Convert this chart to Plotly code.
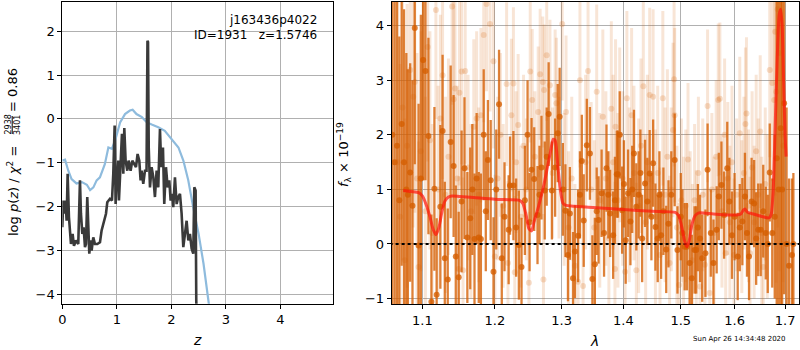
import plotly.graph_objects as go

# ---------------- left panel: p(z) ----------------
pz_blue_z = [0, 0.05, 0.11, 0.17, 0.26, 0.36, 0.45, 0.51, 0.57, 0.63, 0.69, 0.78, 0.845, 0.91, 0.97,
             1.06, 1.15, 1.24, 1.29, 1.36, 1.46, 1.55, 1.64, 1.76, 1.88, 2.01, 2.13, 2.22, 2.31, 2.40,
             2.50, 2.59, 2.68, 2.75]
pz_blue_y = [-0.95, -0.93, -1.18, -1.37, -1.47, -1.44, -1.50, -1.62, -1.56, -1.40, -1.33, -1.03, -0.65,
             -0.68, -0.49, -0.08, 0.11, 0.19, 0.21, 0.11, 0.04, -0.08, -0.13, -0.19, -0.27, -0.46, -0.65,
             -0.95, -1.40, -2.01, -2.62, -3.30, -4.21, -4.8]

pz_dark_z = [0.0, 0.018, 0.037, 0.061, 0.079, 0.098, 0.122, 0.141, 0.159, 0.189, 0.214, 0.251, 0.293,
             0.324, 0.342, 0.367, 0.391, 0.416, 0.434, 0.458, 0.477, 0.495, 0.520, 0.538, 0.568, 0.599,
             0.642, 0.691, 0.721, 0.764, 0.801, 0.825, 0.874, 0.911, 0.935, 0.960, 0.978, 0.996, 1.027,
             1.039, 1.070, 1.094, 1.119, 1.137, 1.161, 1.192, 1.216, 1.253, 1.284, 1.314, 1.351, 1.381,
             1.412, 1.436, 1.455, 1.485, 1.516, 1.545, 1.562, 1.572, 1.585, 1.608, 1.638, 1.669, 1.699,
             1.730, 1.760, 1.791, 1.815, 1.846, 1.870, 1.901, 1.932, 1.962, 1.987, 2.017, 2.035, 2.066,
             2.097, 2.127, 2.158, 2.188, 2.219, 2.249, 2.280, 2.311, 2.341, 2.372, 2.402, 2.421, 2.445,
             2.457, 2.476]
pz_dark_y = [-2.47, -1.86, -2.16, -1.86, -2.32, -1.25, -2.24, -2.62, -2.85, -2.62, -2.89, -2.77, -2.85,
             -1.40, -2.16, -2.62, -2.47, -2.92, -2.85, -1.78, -2.62, -3.07, -2.77, -3.00, -2.70, -2.85,
             -2.85, -2.81, -2.54, -2.32, -2.16, -1.90, -1.82, -1.86, -1.25, -0.15, -1.94, -1.40, -0.95,
             -1.86, -1.10, -0.34, -1.25, -0.21, -0.95, -1.18, -0.95, -1.18, -0.95, -1.03, -1.10, -0.80,
             -0.95, -1.40, -1.18, -1.48, -1.18, -1.18, 1.78, 1.75, -0.65, -1.56, -1.10, -1.33, -1.78,
             -1.18, -1.56, -0.23, -1.10, -0.65, -1.94, -1.10, -1.56, -1.40, -1.86, -1.71, -2.01, -1.33,
             -1.94, -1.78, -1.71, -2.16, -2.92, -2.54, -2.32, -2.77, -2.62, -2.96, -3.07, -1.56, -1.63,
             -4.14, -5.0]

# ---------------- right panel: spectrum ----------------
dark_wave = [1.061, 1.064, 1.067, 1.070, 1.073, 1.076, 1.079, 1.081, 1.084, 1.087, 1.090, 1.095, 1.098,
             1.101, 1.104, 1.108, 1.112, 1.116, 1.119, 1.124, 1.127, 1.130, 1.134, 1.138, 1.142, 1.145,
             1.149, 1.153, 1.157, 1.161, 1.165, 1.168, 1.171, 1.174, 1.177, 1.180, 1.184, 1.187, 1.190,
             1.194, 1.198, 1.202, 1.206, 1.210, 1.214, 1.220, 1.222, 1.227, 1.231, 1.235, 1.239, 1.244,
             1.248, 1.251, 1.254, 1.258, 1.263, 1.266, 1.269, 1.274, 1.277, 1.280, 1.285, 1.290, 1.294,
             1.297, 1.302, 1.306, 1.310, 1.313, 1.318, 1.321, 1.326, 1.329, 1.332, 1.335, 1.340, 1.345,
             1.349, 1.353, 1.356, 1.359, 1.364, 1.368, 1.372, 1.375, 1.378, 1.383, 1.386, 1.389, 1.391,
             1.394, 1.398, 1.401, 1.404, 1.408, 1.412, 1.415, 1.418, 1.422, 1.426, 1.429, 1.432, 1.437,
             1.441, 1.445, 1.448, 1.451, 1.455, 1.459, 1.462, 1.465, 1.469, 1.474, 1.478, 1.483, 1.489,
             1.494, 1.500, 1.503, 1.507, 1.511, 1.516, 1.520, 1.525, 1.528, 1.531, 1.535, 1.539, 1.545,
             1.549, 1.555, 1.560, 1.566, 1.570, 1.575, 1.580, 1.586, 1.590, 1.595, 1.600, 1.606, 1.610,
             1.615, 1.620, 1.624, 1.628, 1.633, 1.638, 1.642, 1.646, 1.651, 1.656, 1.661, 1.665, 1.669,
             1.674, 1.679, 1.683, 1.687, 1.691, 1.694, 1.698, 1.703, 1.708, 1.714, 1.717]
dark_flux = [2.0, 1.5, 1.8, 0.8, 2.2, 1.5, 1.0, 0.9, 1.31, 0.70, 3.96, -0.03, 1.2,
             3.37, 3.17, 1.98, -1.06, 1.01, -0.93, 0.68, 2.07, -0.26, -0.65, 1.87, 1.43, -0.23,
             -0.61, 0.78, 1.39, 0.12, 0.47, 1.0, 0.09, 1.2, 0.12, 0.09, 2.0, 0.6, 1.54,
             1.17, -0.51, 1.0, 2.56, -0.26, 0.5, 0.26, 1.07, 1.07, 0.3, -0.02, -0.42, 0.8,
             2.0, 0.4, 1.36, 1.19, 0.53, 0.9, 1.40, 0.98, 1.6, 2.38, 0.98, 1.4, 2.03,
             2.33, 1.0, 0.61, -0.2, 0.56, -0.63, -0.14, 0.15, 0.9, 1.52, 0.43, 1.81, 1.66,
             -0.64, -0.37, 0.6, 0.44, 0.93, 0.2, 1.39, 0.9, 0.56, 0.16, 0.8, 1.28, 1.28,
             2.0, 0.62, 1.1, 0.07, 0.93, 0.41, 1.0, 1.66, 0.68, 0.90, 1.3, 0.10, 1.11,
             0.78, 1.29, 0.5, 1.48, 0.31, 0.10, 0.9, 0.16, 0.6, -0.10, 0.37, 0.9, 1.54,
             -0.11, 0.5, 0.2, -0.05, -0.05, -0.35, -0.63, -0.11, -0.11, 0.3, 0.1, -0.26, -0.17,
             1.36, 0.20, -0.35, 0.26, 0.87, 1.08, 0.53, 1.39, 0.78, 0.16, 0.5, -0.23, 0.3,
             0.41, 0.87, 0.2, -0.23, 0.78, 0.74, 0.1, 0.26, 0.26, 0.6, 0.20, 0.0, 1.31,
             0.20, 0.5, 1.57, 1.0, 2.12, 1.0, 2.58, 0.0, -0.4, -0.2, 0.0]
dark_err = [3.5, 3.2, 3.0, 3.0, 2.6, 2.8, 2.5, 2.3, 2.0, 2.3, 2.5, 2.6, 3.0,
            2.2, 2.0, 1.8, 1.6, 1.5, 1.4, 1.5, 1.4, 1.4, 1.3, 1.4, 1.3, 1.3,
            1.2, 1.3, 1.3, 1.2, 1.3, 1.2, 1.2, 1.2, 1.2, 1.2, 1.2, 1.1, 1.1,
            1.1, 1.0, 1.1, 1.0, 1.0, 1.0, 1.0, 0.9, 1.0, 0.9, 1.0, 0.9, 1.0,
            1.0, 0.9, 0.95, 0.95, 0.9, 0.9, 0.95, 0.9, 0.9, 0.95, 0.9, 0.9, 0.9,
            0.9, 0.85, 0.85, 0.85, 0.85, 0.85, 0.85, 0.85, 0.8, 0.85, 0.85, 0.85, 0.85,
            0.8, 0.85, 0.8, 0.8, 0.8, 0.8, 0.8, 0.8, 0.8, 0.8, 0.8, 0.8, 0.8,
            0.8, 0.8, 0.8, 0.8, 0.8, 0.8, 0.8, 0.8, 0.8, 0.8, 0.8, 0.8, 0.8,
            0.8, 0.8, 0.8, 0.8, 0.8, 0.8, 0.8, 0.8, 0.8, 0.8, 0.8, 0.8, 0.85,
            0.8, 0.8, 0.8, 0.8, 0.8, 0.8, 0.8, 0.8, 0.8, 0.8, 0.8, 0.8, 0.8,
            0.85, 0.8, 0.8, 0.8, 0.8, 0.8, 0.8, 0.85, 0.8, 0.8, 0.8, 0.8, 0.8,
            0.8, 0.8, 0.8, 0.8, 0.8, 0.8, 0.85, 0.85, 0.85, 0.85, 0.85, 0.9, 0.9,
            1.0, 1.5, 3.0, 4.0, 3.5, 4.0, 3.5, 2.5, 1.6, 1.4, 1.3]

light_wave = [1.068, 1.071, 1.074, 1.077, 1.080, 1.084, 1.088, 1.090, 1.093, 1.095, 1.098, 1.101, 1.104,
              1.107, 1.110, 1.113, 1.118, 1.121, 1.124, 1.127, 1.131, 1.135, 1.140, 1.142, 1.144, 1.147,
              1.149, 1.150, 1.153, 1.155, 1.158, 1.162, 1.166, 1.170, 1.174, 1.177, 1.180, 1.184, 1.188,
              1.193, 1.198, 1.200, 1.204, 1.208, 1.212, 1.217, 1.219, 1.224, 1.227, 1.229, 1.231, 1.234,
              1.238, 1.242, 1.246, 1.250, 1.252, 1.255, 1.259, 1.264, 1.267, 1.271, 1.272, 1.273, 1.277,
              1.282, 1.286, 1.290, 1.292, 1.296, 1.301, 1.304, 1.307, 1.311, 1.316, 1.321, 1.326, 1.329,
              1.334, 1.338, 1.342, 1.347, 1.352, 1.356, 1.361, 1.366, 1.371, 1.376, 1.380, 1.383, 1.386,
              1.387, 1.391, 1.394, 1.399, 1.403, 1.406, 1.410, 1.414, 1.418, 1.422, 1.426, 1.430, 1.434,
              1.438, 1.441, 1.445, 1.451, 1.455, 1.459, 1.463, 1.468, 1.472, 1.476, 1.480, 1.483, 1.486,
              1.488, 1.489, 1.493, 1.497, 1.501, 1.505, 1.509, 1.513, 1.517, 1.521, 1.525, 1.528, 1.532,
              1.535, 1.540, 1.544, 1.549, 1.553, 1.557, 1.561, 1.565, 1.569, 1.572, 1.576, 1.581, 1.583,
              1.587, 1.591, 1.595, 1.599, 1.604, 1.610, 1.614, 1.618, 1.621, 1.623, 1.627, 1.630, 1.634,
              1.638, 1.642, 1.646, 1.650, 1.653, 1.656, 1.660, 1.664, 1.669, 1.674, 1.678, 1.680, 1.682,
              1.685, 1.688, 1.692, 1.696]
light_flux = [1.5, 0.5, 2.5, -0.3, 1.8, 3.19, 2.70, 2.97, 1.2, -0.42, 1.7, 3.37, 0.6,
              3.61, 1.9, 0.2, 4.29, 1.0, 2.3, 3.09, 0.9, 1.6, 4.35, 2.65, 2.85, 1.2,
              -0.46, 2.77, 3.16, -0.48, 3.17, 1.4, 0.6, 2.15, 2.30, 0.9, 2.36, 3.83, 4.40,
              4.03, 3.35, -0.23, 1.2, 2.0, 0.7, 2.93, -0.35, 2.36, 2.94, -0.52, 1.5, 2.18,
              0.5, 1.8, 1.0, -0.71, 3.16, 2.64, 1.6, 2.42, 3.11, 2.97, -0.65, 2.82, 3.46,
              2.91, 1.3, 2.73, 2.58, 1.4, 4.03, 1.0, 2.42, 0.3, 1.2, -0.4, -0.69, 3.0,
              -0.77, 1.5, 3.17, 1.0, 0.3, 2.79, 0.8, 2.33, 1.2, 0.1, 2.48, 1.5, -0.46,
              2.15, 0.8, 2.0, 1.2, -0.51, 2.67, 0.9, 2.36, 1.3, -0.48, 0.7, 1.8, 2.89,
              0.4, 1.5, 2.73, 2.70, 0.5, 1.3, -0.2, 2.67, 0.9, 1.6, -0.35, 1.0, 2.09,
              3.02, 2.36, 0.3, -0.75, 0.8, 0.1, 0.7, 1.55, 0.3, -0.3, 0.8, -0.05, 1.3,
              -0.78, 0.9, -0.38, 2.53, -0.9, 1.0, 0.2, 1.6, 2.64, 2.66, 0.6, 2.0, -0.17,
              1.2, 0.4, 1.5, -0.2, 0.9, 2.03, 0.5, 1.3, 2.20, 2.39, 0.7, -0.17, 1.4,
              0.4, 1.7, 0.9, 2.06, 0.2, -0.42, 1.1, 0.5, 3.19, 2.95, 2.64, 3.89, 2.79,
              4.3, 3.5, 2.0, 1.8]
light_err = [3.0, 2.8, 2.8, 2.6, 2.6, 2.5, 2.4, 2.4, 2.3, 2.3, 2.2, 2.2, 2.1,
             2.1, 2.0, 2.0, 2.0, 1.9, 1.9, 1.9, 1.8, 1.8, 1.8, 1.8, 1.8, 1.7,
             1.7, 1.7, 1.7, 1.7, 1.7, 1.7, 1.6, 1.6, 1.6, 1.6, 1.6, 1.6, 1.6,
             1.6, 1.6, 1.5, 1.5, 1.5, 1.5, 1.5, 1.5, 1.4, 1.4, 1.4, 1.3, 1.3,
             1.3, 1.3, 1.3, 1.3, 1.3, 1.3, 1.2, 1.2, 1.2, 1.2, 1.2, 1.2, 1.2,
             1.2, 1.2, 1.2, 1.2, 1.3, 1.4, 1.4, 1.4, 1.4, 1.5, 1.5, 1.5, 1.6,
             1.5, 1.6, 1.6, 1.6, 1.6, 1.6, 1.6, 1.6, 1.6, 1.6, 1.6, 1.6, 1.6,
             1.6, 1.6, 1.6, 1.6, 1.6, 1.6, 1.6, 1.6, 1.6, 1.6, 1.6, 1.6, 1.6,
             1.6, 1.6, 1.6, 1.6, 1.6, 1.6, 1.6, 1.6, 1.6, 1.6, 1.6, 1.5, 1.6,
             1.6, 1.6, 1.5, 1.5, 1.5, 1.5, 1.4, 1.4, 1.4, 1.4, 1.4, 1.4, 1.4,
             1.4, 1.4, 1.4, 1.4, 1.4, 1.4, 1.4, 1.4, 1.4, 1.4, 1.4, 1.4, 1.4,
             1.4, 1.4, 1.4, 1.4, 1.4, 1.4, 1.4, 1.4, 1.4, 1.4, 1.4, 1.4, 1.4,
             1.4, 1.4, 1.4, 1.4, 1.4, 1.4, 1.4, 1.5, 1.6, 1.8, 2.5, 3.0, 3.5,
             4.0, 4.0, 3.0, 2.5]

model_wave = [1.075, 1.085, 1.095, 1.100, 1.105, 1.110, 1.114, 1.118, 1.122, 1.126, 1.130, 1.135, 1.140,
              1.150, 1.170, 1.200, 1.220, 1.236, 1.241, 1.246, 1.250, 1.254, 1.258, 1.263, 1.268, 1.273,
              1.278, 1.283, 1.287, 1.290, 1.294, 1.298, 1.302, 1.306, 1.320, 1.350, 1.400, 1.450, 1.490,
              1.496, 1.502, 1.507, 1.511, 1.515, 1.520, 1.526, 1.533, 1.560, 1.600, 1.612, 1.617, 1.620,
              1.625, 1.640, 1.655, 1.668, 1.672, 1.676, 1.680, 1.684, 1.688, 1.691, 1.694, 1.697, 1.700,
              1.702]
model_flux = [0.98, 0.96, 0.94, 0.88, 0.72, 0.50, 0.28, 0.17, 0.30, 0.58, 0.78, 0.86, 0.88,
              0.87, 0.85, 0.82, 0.81, 0.80, 0.74, 0.52, 0.28, 0.24, 0.42, 0.62, 0.85, 1.10,
              1.40, 1.70, 1.92, 1.90, 1.45, 1.00, 0.75, 0.71, 0.69, 0.67, 0.63, 0.60, 0.58,
              0.52, 0.30, 0.05, -0.05, 0.05, 0.35, 0.52, 0.57, 0.55, 0.53, 0.55, 0.62, 0.64,
              0.58, 0.54, 0.50, 0.48, 0.55, 1.00, 2.20, 3.40, 4.20, 4.30, 4.00, 3.00, 2.00,
              1.60]

left_xticks = [0, 1, 2, 3, 4]
left_yticks = [-4, -3, -2, -1, 0, 1, 2]
right_xticks = [1.1, 1.2, 1.3, 1.4, 1.5, 1.6, 1.7]
right_yticks = [-1, 0, 1, 2, 3, 4]

W, H = 800, 350
def px(x):
    return x / W
def py(y):
    return 1 - y / H

FONT = "DejaVu Sans"
ORANGE_D = "rgba(213,94,0,0.78)"
ORANGE_L_BAR = "rgba(213,94,0,0.16)"
ORANGE_L_MK = "rgba(213,94,0,0.2)"

fig = go.Figure()

# left panel
fig.add_trace(go.Scatter(x=pz_blue_z, y=pz_blue_y, mode="lines", xaxis="x", yaxis="y",
                         line=dict(color="#8ebbdd", width=2.2), showlegend=False, hoverinfo="skip"))
fig.add_trace(go.Scatter(x=pz_dark_z, y=pz_dark_y, mode="lines", xaxis="x", yaxis="y",
                         line=dict(color="#3a3a3a", width=2.6), showlegend=False, hoverinfo="skip"))

# right panel: light series
fig.add_trace(go.Scatter(x=light_wave, y=light_flux, mode="markers", xaxis="x2", yaxis="y2",
                         marker=dict(color=ORANGE_L_MK, size=6, line=dict(width=0)),
                         error_y=dict(type="data", array=light_err, visible=True, color=ORANGE_L_BAR,
                                      thickness=3, width=0),
                         showlegend=False, hoverinfo="skip"))
# dark series
fig.add_trace(go.Scatter(x=dark_wave, y=dark_flux, mode="markers", xaxis="x2", yaxis="y2",
                         marker=dict(color=ORANGE_D, size=6, line=dict(width=0)),
                         error_y=dict(type="data", array=dark_err, visible=True, color=ORANGE_D,
                                      thickness=2.3, width=0),
                         showlegend=False, hoverinfo="skip"))
# zero line
fig.add_trace(go.Scatter(x=[1.05, 1.75], y=[0, 0], mode="lines", xaxis="x2", yaxis="y2",
                         line=dict(color="black", width=2, dash="dot"), showlegend=False, hoverinfo="skip"))
# model
fig.add_trace(go.Scatter(x=model_wave, y=model_flux, mode="lines", xaxis="x2", yaxis="y2",
                         line=dict(color="rgba(255,20,10,0.7)", width=3, shape="spline", smoothing=0.6),
                         showlegend=False, hoverinfo="skip"))

axis_common = dict(showline=True, linecolor="black", linewidth=1, mirror=True,
                   ticks="outside", ticklen=4, tickcolor="black", automargin=False,
                   showgrid=True, gridcolor="#b0b0b0", gridwidth=1, zeroline=False,
                   tickfont=dict(family=FONT, size=13, color="black"))

fig.update_layout(
    width=W, height=H, margin=dict(l=0, r=0, t=0, b=0, autoexpand=False),
    paper_bgcolor="white", plot_bgcolor="white",
    font=dict(family=FONT, size=13, color="black"),
    xaxis=dict(domain=[px(62.3), px(333.3)], anchor="y", range=[0, 4.97],
               tickvals=left_xticks, **axis_common),
    yaxis=dict(domain=[py(303.7), py(1.7)], anchor="x", range=[-4.21, 2.67],
               tickvals=left_yticks, ticktext=[("\u2212%d" % -v) if v < 0 else str(v) for v in left_yticks],
               **axis_common),
    xaxis2=dict(domain=[px(391.7), px(799)], anchor="y2", type="log", range=[0.0254, 0.2377],
                tickvals=right_xticks, ticktext=["%.1f" % v for v in right_xticks], **axis_common),
    yaxis2=dict(domain=[py(304), py(1.7)], anchor="x2", range=[-1.10, 4.44],
                tickvals=right_yticks, ticktext=[("\u2212%d" % -v) if v < 0 else str(v) for v in right_yticks],
                **axis_common),
)

ann = []
def add_text(x, y, text, size=13, xanchor="center", yanchor="middle", angle=0):
    ann.append(dict(x=px(x), y=py(y), xref="paper", yref="paper", text=text, showarrow=False,
                    xanchor=xanchor, yanchor=yanchor, textangle=angle,
                    font=dict(family=FONT, size=size, color="black")))

add_text(319, 20, "j163436p4022", size=12, xanchor="right")
add_text(319, 35, "ID=1931\u00a0\u00a0\u00a0z=1.5746", size=12, xanchor="right")
add_text(197, 340, "<i>z</i>", size=14)
add_text(594, 341, "<i>λ</i>", size=14)
add_text(13, 191, "log <i>p</i>(<i>z</i>) / <i>χ</i><sup>2</sup> =", size=13, angle=-90)
add_text(7.5, 125, "2938", size=8, angle=-90)
add_text(17, 125, "3401", size=8, angle=-90)
add_text(13, 90, "= 0.86", size=13, angle=-90)
add_text(344, 155, "<i>f</i><sub>λ</sub> × 10<sup>−19</sup>", size=13, angle=-90)
add_text(788, 339, "Sun Apr 26 14:34:48 2020", size=7, xanchor="right")
fig.update_layout(annotations=ann)

# fraction bar
fig.add_shape(type="line", xref="paper", yref="paper", x0=px(12.2), x1=px(12.2), y0=py(116), y1=py(134),
              line=dict(color="black", width=1))

fig.write_html("out.html", config={"displayModeBar": False},
               post_script="document.body.style.margin='0';document.body.style.padding='0';")
